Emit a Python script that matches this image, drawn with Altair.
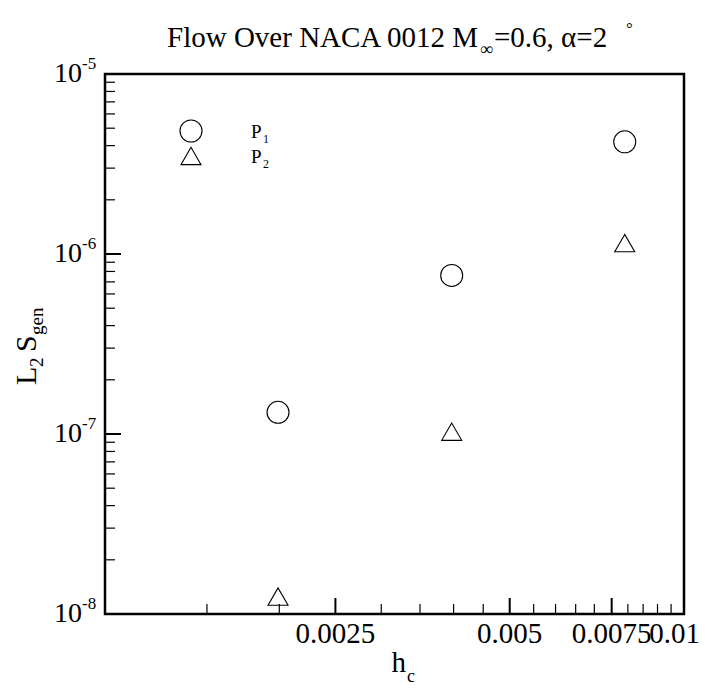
import altair as alt
import pandas as pd

# ---- data ----
hc = [0.00199, 0.00397, 0.0079]
p1 = [1.32e-7, 7.6e-7, 4.2e-6]
p2 = [1.25e-8, 1.03e-7, 1.15e-6]

x_major = [0.0025, 0.005, 0.0075]
x_major_labels = ["0.0025", "0.005", "0.0075"]
x_last = [0.01]
x_last_label = ["0.01"]
x_minor = [0.0015, 0.002, 0.003, 0.0035, 0.004, 0.0045, 0.0055, 0.006,
           0.0065, 0.007, 0.008, 0.0085, 0.009, 0.0095]
y_major = [1e-8, 1e-7, 1e-6, 1e-5]
y_major_exp = ["-8", "-7", "-6", "-5"]
y_minor = [2e-8, 3e-8, 4e-8, 5e-8, 6e-8, 7e-8, 8e-8, 9e-8,
           2e-7, 3e-7, 4e-7, 5e-7, 6e-7, 7e-7, 8e-7, 9e-7,
           2e-6, 3e-6, 4e-6, 5e-6, 6e-6, 7e-6, 8e-6, 9e-6]

W, H = 579, 540
FONT = "Liberation Serif"

xs = alt.Scale(type="log", domain=[0.001, 0.01])
ys = alt.Scale(type="log", domain=[1e-8, 1e-5])

def X(f):
    return alt.X(f, type="quantitative", scale=xs, axis=None)

def Y(f):
    return alt.Y(f, type="quantitative", scale=ys, axis=None)

df1 = pd.DataFrame({"hc": hc, "v": p1})
df2 = pd.DataFrame({"hc": hc, "v": p2})

circles = alt.Chart(df1).mark_point(shape="circle", size=484, filled=False,
                                    color="black", strokeWidth=1.1, opacity=1).encode(x=X("hc"), y=Y("v"))
tris = alt.Chart(df2).mark_point(shape="triangle-up", size=400, filled=False,
                                 color="black", strokeWidth=1.1, opacity=1).encode(x=X("hc"), y=Y("v"))

# ticks (inward)
xmaj = pd.DataFrame({"x": x_major, "lab": x_major_labels})
xlast = pd.DataFrame({"x": x_last, "lab": x_last_label})
xmin = pd.DataFrame({"x": x_minor})
ymaj = pd.DataFrame({"y": y_major, "e": y_major_exp})
ymin = pd.DataFrame({"y": y_minor})

tk = dict(color="black", strokeWidth=2)
xmaj_t = alt.Chart(xmaj).mark_rule(**tk).encode(x=X("x"), y=alt.value(H), y2=alt.value(H - 16))
xmin_t = alt.Chart(xmin).mark_rule(color="black", strokeWidth=1.2).encode(x=X("x"), y=alt.value(H), y2=alt.value(H - 10))
ymaj_t = alt.Chart(ymaj).mark_rule(**tk).encode(y=Y("y"), x=alt.value(0), x2=alt.value(16))
ymin_t = alt.Chart(ymin).mark_rule(color="black", strokeWidth=1.2).encode(y=Y("y"), x=alt.value(0), x2=alt.value(10))

# tick labels
xlab = alt.Chart(xmaj).mark_text(font=FONT, fontSize=29, align="center", baseline="middle").encode(
    x=X("x"), y=alt.value(560), text="lab:N")
xlab_last = alt.Chart(xlast).mark_text(font=FONT, fontSize=29, align="right", baseline="middle", dx=16).encode(
    x=X("x"), y=alt.value(560), text="lab:N")
ylab10 = alt.Chart(ymaj).mark_text(font=FONT, fontSize=28, align="right", baseline="middle").encode(
    y=Y("y"), x=alt.value(-23), text=alt.value("10"))
ylabexp = alt.Chart(ymaj).mark_text(font=FONT, fontSize=17, align="left", baseline="middle", dy=-10).encode(
    y=Y("y"), x=alt.value(-23), text="e:N")

def txt(s, x, y, size, align="left", baseline="alphabetic", angle=0):
    return alt.Chart(pd.DataFrame({"t": [s]})).mark_text(
        font=FONT, fontSize=size, align=align, baseline=baseline, angle=angle
    ).encode(x=alt.value(x), y=alt.value(y), text="t:N")

# title pieces (relative to plot origin)
title = [
    txt("Flow Over NACA 0012 M", 373, -27, 29, align="right"),
    txt("\u221e", 375, -19, 18),
    txt("=0.6, \u03b1=2", 389, -27, 29),
    txt("\u00b0", 521, -40, 17),
]
# x title
xt = [txt("h", 301, 598, 29, align="right"), txt("c", 302, 608, 18)]
# y title (rotated)
yt = [
    txt("L", -69, 311, 30, angle=270),
    txt("2", -62, 293, 19, angle=270),
    txt("S", -69, 278, 30, angle=270),
    txt("gen", -62, 261, 19, angle=270),
]
# legend
leg_c = alt.Chart(pd.DataFrame({"a": [0]})).mark_point(shape="circle", size=484, filled=False,
        color="black", strokeWidth=1.1, opacity=1).encode(x=alt.value(86), y=alt.value(57))
leg_t = alt.Chart(pd.DataFrame({"a": [0]})).mark_point(shape="triangle-up", size=400, filled=False,
        color="black", strokeWidth=1.1, opacity=1).encode(x=alt.value(86), y=alt.value(82))
leg = [leg_c, leg_t,
       txt("P", 146, 58, 19, baseline="middle"), txt("1", 158, 65, 12, baseline="middle"),
       txt("P", 146, 83, 19, baseline="middle"), txt("2", 158, 90, 12, baseline="middle")]

chart = alt.layer(
    xmin_t, xmaj_t, ymin_t, ymaj_t, circles, tris, xlab, xlab_last, ylab10, ylabexp,
    *title, *xt, *yt, *leg
).properties(
    width=W, height=H,
    padding={"left": 97, "top": 66, "right": 17, "bottom": 74},
    autosize=alt.AutoSizeParams(type="none"),
).configure_view(stroke="black", strokeWidth=2.5)

chart.save("out.html", embed_options={"renderer": "svg", "actions": False})
